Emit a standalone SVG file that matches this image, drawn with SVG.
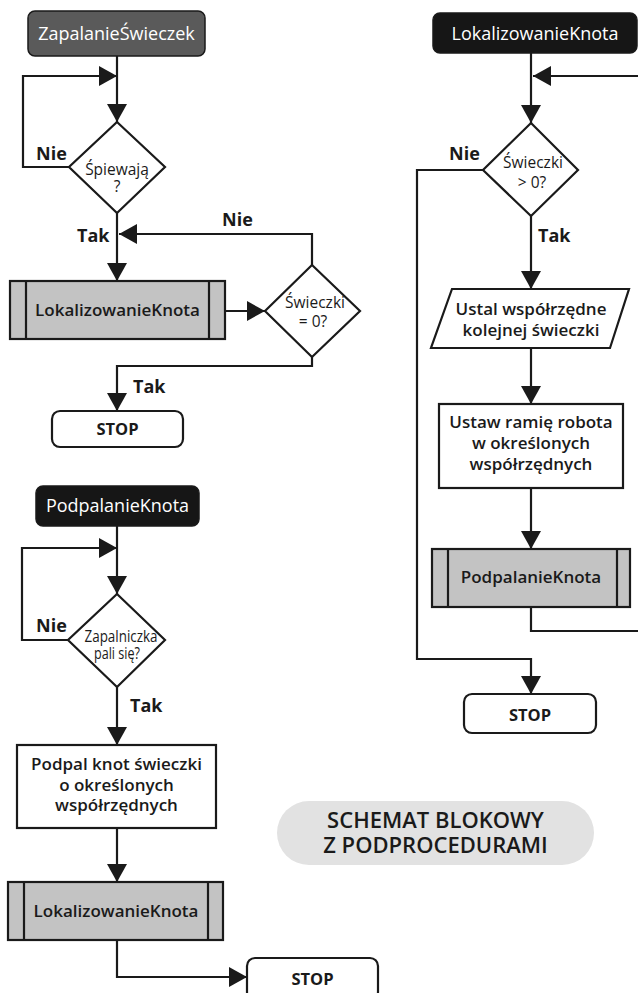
<svg xmlns="http://www.w3.org/2000/svg" width="638" height="993" viewBox="0 0 638 993">
  <defs>
    <marker id="arrow" markerUnits="userSpaceOnUse" viewBox="0 0 18 20" markerWidth="18" markerHeight="20" refX="18" refY="10" orient="auto">
      <path d="M0,0 L18,10 L0,20 Z" fill="#1a1a1a"/>
    </marker>
    <style>
      .ln { fill: none; stroke: #1a1a1a; stroke-width: 2.2; }
      .lna { fill: none; stroke: #1a1a1a; stroke-width: 2.2; marker-end: url(#arrow); }
      .box { fill: #ffffff; stroke: #1a1a1a; stroke-width: 2.2; }
      .sub { fill: #c3c3c3; stroke: #1a1a1a; stroke-width: 2.2; }
      .hdr { fill: #161616; stroke: #1a1a1a; stroke-width: 1.5; }
      .hdr2 { fill: #5a5a5a; stroke: #1a1a1a; stroke-width: 1.5; }
      text { font-family: "Open Sans", "Noto Sans", "Liberation Sans", sans-serif; text-anchor: middle; fill: #1a1a1a; }
      .ht { font-size: 18px; fill: #ffffff; }
      .bt { font-size: 17px; font-weight: 600; }
      .dt { font-size: 15.5px; }
      .lbl { font-size: 18px; font-weight: 700; text-anchor: start; }
      .st { font-size: 16.5px; font-weight: 700; }
      .ttl { font-size: 22px; font-weight: 600; }
    </style>
  </defs>

  <!-- connectors -->
  <g id="connectors">
    <!-- ZapalanieŚwieczek -->
    <path class="lna" d="M117,56 V122"/>
    <path class="lna" d="M69,167 H23 V76 H117"/>
    <path class="lna" d="M117,213 V281"/>
    <path class="lna" d="M312,265 V234 H119"/>
    <path class="lna" d="M225,311 H265"/>
    <path class="lna" d="M312,357 V366 H117 V411"/>
    <!-- LokalizowanieKnota -->
    <path class="lna" d="M531,53 V123"/>
    <path class="lna" d="M531,607 V631 H640 V76 H533"/>
    <path class="lna" d="M531,216 V289"/>
    <path class="lna" d="M483,170 H417 V659 H531 V694"/>
    <path class="lna" d="M531,348 V404"/>
    <path class="lna" d="M531,488 V549"/>
    <!-- PodpalanieKnota -->
    <path class="lna" d="M117,526 V594"/>
    <path class="lna" d="M68,640 H22 V548 H117"/>
    <path class="lna" d="M117,687 V745"/>
    <path class="lna" d="M117,828 V882"/>
    <path class="lna" d="M117,940 V977 H247"/>
  </g>

  <!-- connector labels -->
  <g id="labels">
    <text class="lbl" x="36" y="160">Nie</text>
    <text class="lbl" x="77" y="242">Tak</text>
    <text class="lbl" x="222" y="226">Nie</text>
    <text class="lbl" x="133" y="393">Tak</text>
    <text class="lbl" x="449" y="160">Nie</text>
    <text class="lbl" x="538" y="242">Tak</text>
    <text class="lbl" x="36" y="632">Nie</text>
    <text class="lbl" x="130" y="712">Tak</text>
  </g>

  <!-- procedure: ZapalanieŚwieczek -->
  <g id="start-zapalanie">
    <rect class="hdr2" x="28" y="11" width="177" height="45" rx="7"/>
    <text class="ht" x="116.5" y="40">ZapalanieŚwieczek</text>
  </g>
  <g id="dec-spiewaja">
    <polygon class="box" points="117,122 165,167 117,213 69,167"/>
    <text class="dt" x="117" y="175">Śpiewają</text>
    <text class="dt" x="117" y="192">?</text>
  </g>
  <g id="call-lokalizowanie-1">
    <rect class="sub" x="10" y="281" width="215" height="58"/>
    <line class="ln" x1="26" y1="281" x2="26" y2="339"/>
    <line class="ln" x1="209" y1="281" x2="209" y2="339"/>
    <text class="bt" x="117.5" y="316">LokalizowanieKnota</text>
  </g>
  <g id="dec-swieczki-0">
    <polygon class="box" points="312,265 360,311 312,357 265,311"/>
    <text class="dt" x="315" y="308">Świeczki</text>
    <text class="dt" x="313" y="327">= 0?</text>
  </g>
  <g id="stop-1">
    <rect class="box" x="52" y="411" width="131" height="36" rx="8"/>
    <text class="st" x="117.5" y="435">STOP</text>
  </g>

  <!-- procedure: LokalizowanieKnota -->
  <g id="start-lokalizowanie">
    <rect class="hdr" x="433" y="13" width="204" height="40" rx="7"/>
    <text class="ht" x="535" y="40">LokalizowanieKnota</text>
  </g>
  <g id="dec-swieczki-gt0">
    <polygon class="box" points="531,123 578,170 531,216 483,170"/>
    <text class="dt" x="533" y="168">Świeczki</text>
    <text class="dt" x="532" y="188">&gt; 0?</text>
  </g>
  <g id="io-wspolrzedne">
    <polygon class="box" points="452,289 629,289 610,348 431,348"/>
    <text class="bt" x="531" y="315">Ustal współrzędne</text>
    <text class="bt" x="531" y="336">kolejnej świeczki</text>
  </g>
  <g id="proc-ustaw-ramie">
    <rect class="box" x="439" y="404" width="184" height="84"/>
    <text class="bt" x="531" y="428">Ustaw ramię robota</text>
    <text class="bt" x="531" y="449">w określonych</text>
    <text class="bt" x="531" y="470">współrzędnych</text>
  </g>
  <g id="call-podpalanie">
    <rect class="sub" x="432" y="549" width="198" height="58"/>
    <line class="ln" x1="448" y1="549" x2="448" y2="607"/>
    <line class="ln" x1="617" y1="549" x2="617" y2="607"/>
    <text class="bt" x="531" y="583">PodpalanieKnota</text>
  </g>
  <g id="stop-2">
    <rect class="box" x="464" y="694" width="132" height="39" rx="8"/>
    <text class="st" x="530" y="721">STOP</text>
  </g>

  <!-- procedure: PodpalanieKnota -->
  <g id="start-podpalanie">
    <rect class="hdr" x="36" y="486" width="163" height="40" rx="7"/>
    <text class="ht" x="117.5" y="512">PodpalanieKnota</text>
  </g>
  <g id="dec-zapalniczka">
    <polygon class="box" points="117,594 165,640 117,687 68,640"/>
    <text class="dt" x="121" y="642" textLength="73" lengthAdjust="spacingAndGlyphs">Zapalniczka</text>
    <text class="dt" x="117" y="659" textLength="46" lengthAdjust="spacingAndGlyphs">pali się?</text>
  </g>
  <g id="proc-podpal-knot">
    <rect class="box" x="17" y="745" width="199" height="83"/>
    <text class="bt" x="116.5" y="770">Podpal knot świeczki</text>
    <text class="bt" x="116.5" y="791">o określonych</text>
    <text class="bt" x="116.5" y="811">współrzędnych</text>
  </g>
  <g id="call-lokalizowanie-2">
    <rect class="sub" x="8" y="882" width="215" height="58"/>
    <line class="ln" x1="24" y1="882" x2="24" y2="940"/>
    <line class="ln" x1="208" y1="882" x2="208" y2="940"/>
    <text class="bt" x="116" y="917">LokalizowanieKnota</text>
  </g>
  <g id="stop-3">
    <rect class="box" x="247" y="958" width="131" height="42" rx="8"/>
    <text class="st" x="312.5" y="985">STOP</text>
  </g>

  <!-- title -->
  <g id="title">
    <rect x="277" y="801" width="317" height="64" rx="32" fill="#e2e2e2"/>
    <text class="ttl" x="435.5" y="828">SCHEMAT BLOKOWY</text>
    <text class="ttl" x="435.5" y="853">Z PODPROCEDURAMI</text>
  </g>
</svg>
